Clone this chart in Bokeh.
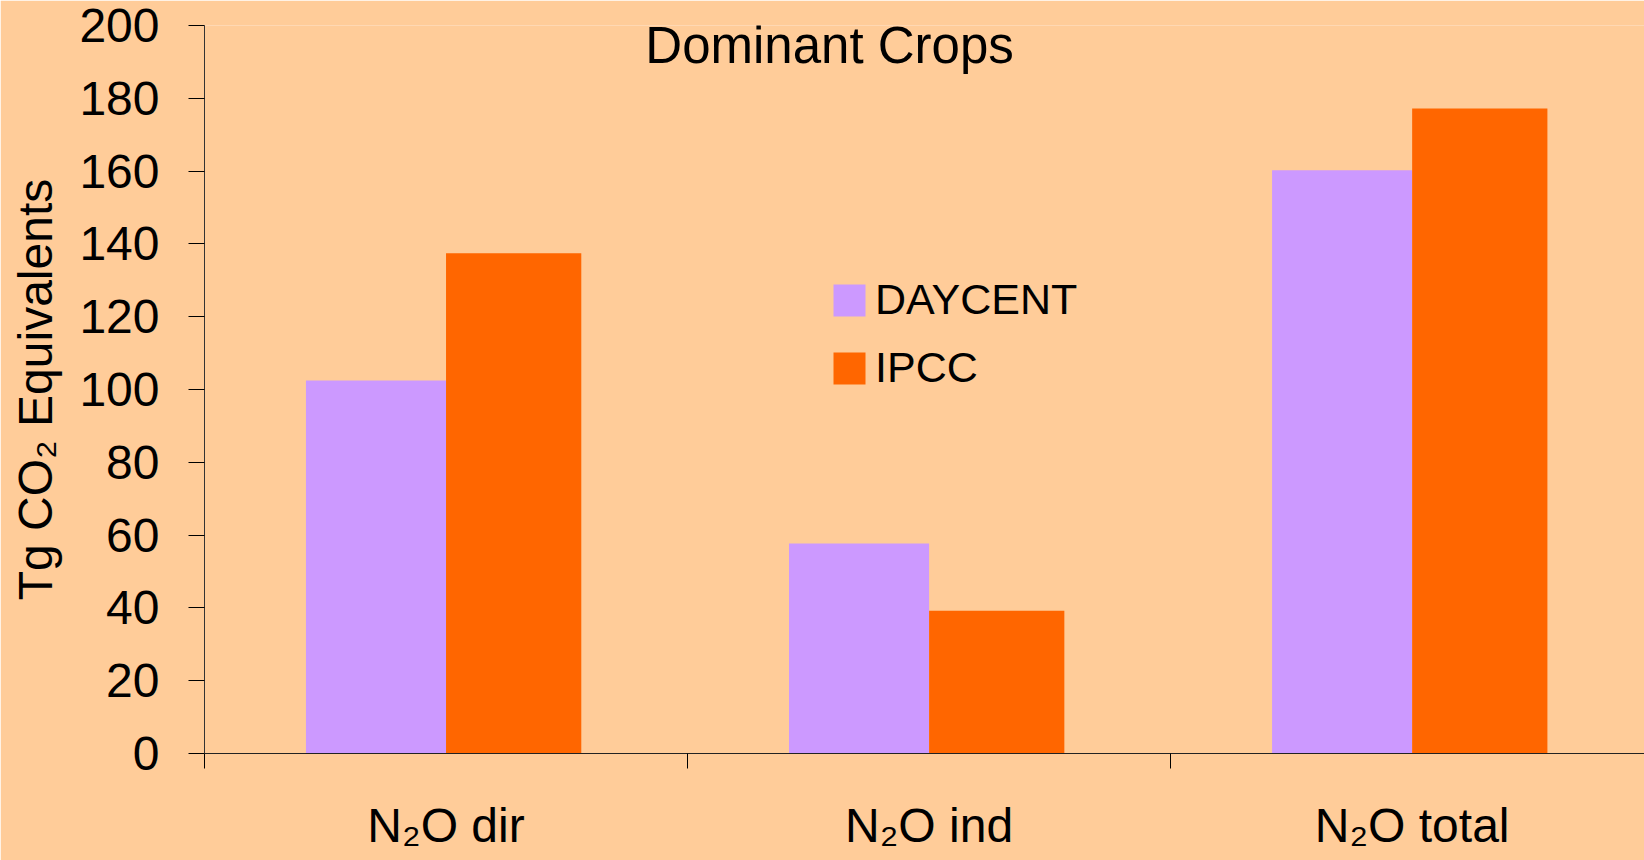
from bokeh.plotting import figure
from bokeh.models import ColumnDataSource, Range1d, FixedTicker, Legend, LegendItem, Label
from bokeh.transform import dodge
from bokeh.embed import file_html
from bokeh.resources import INLINE

# ---- data ----
categories = ["N₂O dir", "N₂O ind", "N₂O total"]
series_names = ["DAYCENT", "IPCC"]
daycent = [102.5, 57.7, 160.2]
ipcc = [137.4, 39.2, 177.2]
y_ticks = [0, 20, 40, 60, 80, 100, 120, 140, 160, 180, 200]
title_text = "Dominant Crops"
y_label = "Tg CO₂ Equivalents"

BG = "#FFCC99"
PURPLE = "#CC99FF"
ORANGE = "#FF6600"
FONT = "Liberation Sans"

centers = [i + 0.5 for i in range(len(categories))]
bounds = [float(i) for i in range(len(categories) + 1)]
src = ColumnDataSource(dict(x=centers, daycent=daycent, ipcc=ipcc))

p = figure(width=1644, height=860, output_backend="svg", toolbar_location=None,
           x_range=Range1d(0, 2.981), y_range=Range1d(0, 200),
           min_border_left=204, min_border_right=0, min_border_top=25, min_border_bottom=107,
           background_fill_color=BG, border_fill_color=BG, outline_line_color=None)
p.grid.visible = False

r1 = p.vbar(x=dodge("x", -0.145, range=p.x_range), top="daycent", width=0.29,
            source=src, fill_color=PURPLE, line_color=None)
r2 = p.vbar(x=dodge("x", 0.14, range=p.x_range), top="ipcc", width=0.28,
            source=src, fill_color=ORANGE, line_color=None)

# x axis
xa = p.xaxis[0]
xa.ticker = FixedTicker(ticks=centers, minor_ticks=bounds)
xa.major_label_overrides = {c: lab for c, lab in zip(centers, categories)}
xa.major_tick_out = 0
xa.major_tick_in = 0
xa.minor_tick_out = 15
xa.minor_tick_in = 0
xa.minor_tick_line_color = "#000000"
xa.axis_line_color = "#222222"
xa.major_label_standoff = 30
xa.major_label_text_font = FONT
xa.major_label_text_font_size = "48px"
xa.major_label_text_color = "#000000"

# y axis
ya = p.yaxis[0]
ya.ticker = FixedTicker(ticks=y_ticks)
ya.major_tick_out = 16
ya.major_tick_in = 0
ya.minor_tick_line_color = None
ya.major_tick_line_color = "#000000"
ya.axis_line_color = "#333333"
ya.major_label_standoff = 29
ya.major_label_text_font = FONT
ya.major_label_text_font_size = "48px"
ya.major_label_text_color = "#000000"
ya.axis_label = y_label
ya.axis_label_text_font = FONT
ya.axis_label_text_font_size = "48px"
ya.axis_label_text_font_style = "normal"
ya.axis_label_text_color = "#000000"
ya.axis_label_standoff = 14

legend = Legend(items=[LegendItem(label=series_names[0], renderers=[r1]),
                       LegendItem(label=series_names[1], renderers=[r2])],
                location=(625, 361), glyph_width=40, glyph_height=40, label_height=32,
                label_standoff=6, label_text_font=FONT, label_text_font_size="43px",
                label_text_color="#000000", padding=0, margin=0, spacing=19,
                border_line_color=None, background_fill_alpha=0)
p.add_layout(legend)

p.add_layout(Label(x=1.294, y=194.5, text=title_text, text_align="center",
                   text_baseline="alphabetic", text_font=FONT, text_font_size="51px",
                   text_color="#000000"))

open("out.html", "w").write(file_html(p, INLINE))
